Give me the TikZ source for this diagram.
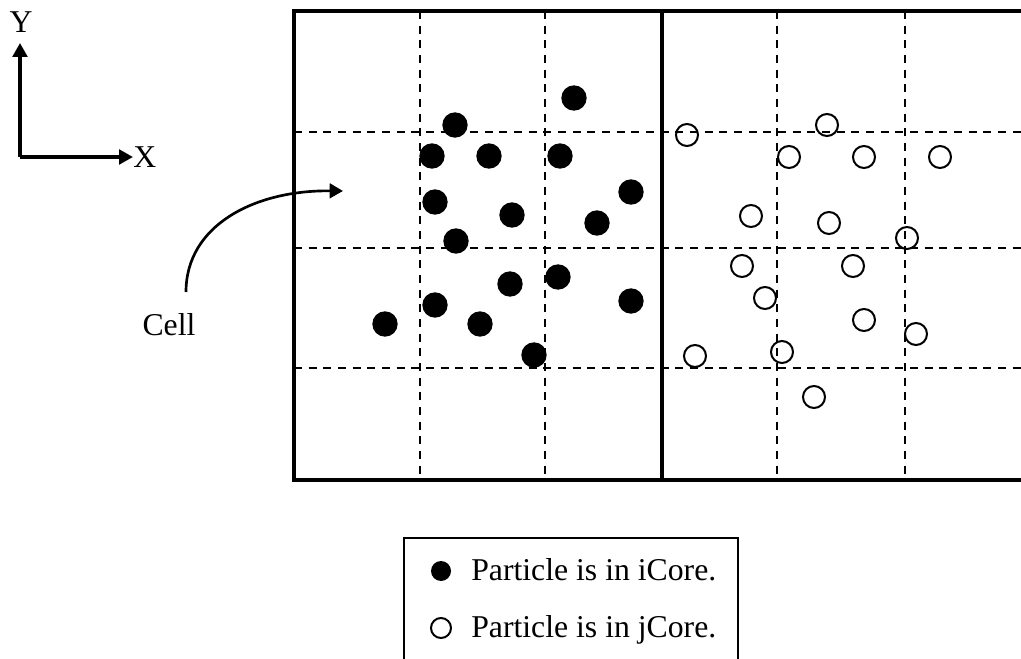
\documentclass[tikz,border=0pt]{standalone}
\usepackage{fontspec}
\setmainfont{Liberation Serif}
\usetikzlibrary{arrows.meta}
\begin{document}
\begin{tikzpicture}[x=0.75pt,y=-0.75pt,
  outer/.style={line width=2.8pt},
  gridline/.style={line width=1.2pt, dash pattern=on 6pt off 5pt},
  iparticle/.style={circle, fill=black, inner sep=0pt, minimum size=19pt},
  jparticle/.style={circle, draw=black, line width=1.5pt, inner sep=0pt, minimum size=16.5pt},
  legi/.style={circle, fill=black, inner sep=0pt, minimum size=15pt},
  legj/.style={circle, draw=black, line width=1.5pt, inner sep=0pt, minimum size=15pt},
  lbl/.style={font=\fontsize{23.8}{28}\selectfont, inner sep=0pt},
  axis/.style={line width=2.5pt, -{Triangle[length=10.5pt, width=11pt]}},
  legbox/.style={line width=1.4pt}
]
\useasboundingbox (0,0) rectangle (1021,659);
\clip (0,0) rectangle (1021,659);

% dashed cell grid
\foreach \x in {420,545,777,905}
  \draw[gridline] (\x,11) -- (\x,480);
\foreach \y in {132,248,368}
  \draw[gridline] (294,\y) -- (1030,\y);

% core boundaries
\draw[outer] (1040,11) -- (294,11) -- (294,480) -- (1040,480);
\draw[outer] (662,11) -- (662,480);

% iCore particles
\foreach \i/\x/\y in {1/574/98, 2/455/125, 3/432/156, 4/489/156, 5/560/156,
  6/631/192, 7/435/202, 8/512/215, 9/597/223, 10/456/241, 11/558/277,
  12/510/284, 13/435/305, 14/631/301, 15/385/324, 16/480/324, 17/534/355}
  \node[iparticle] (p\i) at (\x,\y) {};

% jCore particles
\foreach \i/\x/\y in {1/687/135, 2/827/125, 3/789/157, 4/864/157, 5/940/157,
  6/751/216, 7/829/223, 8/907/238, 9/742/266, 10/853/266, 11/765/298,
  12/864/320, 13/916/334, 14/695/356, 15/782/352, 16/814/397}
  \node[jparticle] (q\i) at (\x,\y) {};

% axes
\coordinate (o) at (20,157);
\coordinate (ytip) at (20,43);
\coordinate (xtip) at (133,157);
\draw[axis] (o) -- (ytip);
\draw[axis] (o) -- (xtip);
\node[lbl, anchor=base] (ylab) at (21,33) {Y};
\node[lbl, anchor=base west] (xlab) at (133,168) {X};

% Cell label and arrow
\node[lbl, anchor=base] (cell) at (169,335) {Cell};
\coordinate (cs) at (186,292);
\coordinate (ce) at (343,191);
\draw[line width=2pt, -{Triangle[length=10pt, width=11pt]}]
  (cs) .. controls (186,225) and (255,190) .. (ce);

% legend
\draw[legbox] (404,680) -- (404,538) -- (738,538) -- (738,680);
\node[legi] (li) at (441,571) {};
\node[lbl, anchor=base west] (lit) at (471,580) {Particle is in iCore.};
\node[legj] (lj) at (441,628) {};
\node[lbl, anchor=base west] (ljt) at (471,637) {Particle is in jCore.};
\end{tikzpicture}
\end{document}
